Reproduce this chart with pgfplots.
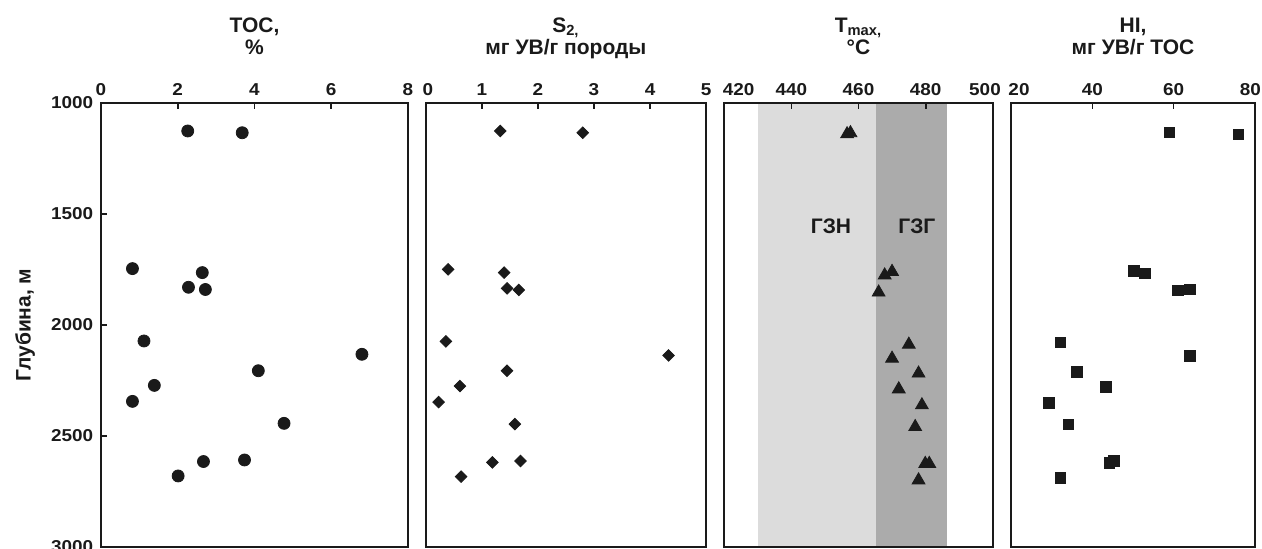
\documentclass[border=0pt]{standalone}
\usepackage{fontspec}
\setmainfont{Liberation Sans}
\usepackage{pgfplots}
\pgfplotsset{compat=1.18}

\definecolor{txt}{HTML}{1A1A1A}
\definecolor{zoneN}{HTML}{DCDCDC}
\definecolor{zoneG}{HTML}{ABABAB}

% shift an edge tick label sideways by half of #1
\newcommand\sh[2]{\makebox[0pt]{\hspace*{#1}#2}}

\pgfplotsset{
  well/.style={
    scale only axis,
    height=222pt,
    anchor=north west,
    y dir=reverse,
    ymin=1000, ymax=3000,
    axis on top,
    axis line style={line width=1pt, txt},
    tick style={line width=0.9pt, txt},
    major tick length=3pt,
    tick align=inside,
    xtick pos=right, xticklabel pos=right,
    ytick pos=left,
    /pgf/number format/assume math mode=true,
    /pgf/number format/1000 sep={},
    ticklabel style={font=\fontsize{8.6}{9}\selectfont\bfseries, text=txt, xscale=1.1},
    title style={at={(0.5,1)}, anchor=south, yshift=14.7pt, inner sep=0pt,
      align=center, font=\fontsize{10.5}{11}\selectfont\bfseries, text=txt},
    only marks,
  },
  dot/.style={mark=*, mark size=3pt, txt},
}

\begin{document}
\begin{tikzpicture}
% TOC
\begin{axis}[well, at={(50.5pt,-51.5pt)}, width=153.5pt,
    xmin=0, xmax=8, xtick={0,2,...,8},
    ytick={1000,1500,...,3000},
    title={TOC,\\\%\strut},
    ylabel={Глубина, м},
    ylabel style={at={(axis description cs:-0.2476,0.5)}, anchor=center,
      font=\fontsize{10.5}{11}\selectfont\bfseries, text=txt}]
\addplot[dot] coordinates {
  (2.26,1126) (3.68,1134) (0.82,1746) (2.64,1764) (2.28,1830)
  (2.72,1840) (1.12,2072) (6.80,2132) (4.10,2206) (1.39,2272)
  (0.82,2344) (4.77,2443) (3.74,2608) (2.67,2615) (2.01,2680)
};
\end{axis}

% S2
\begin{axis}[well, at={(212.85pt,-51.5pt)}, width=140.2pt,
    xmin=0, xmax=5, xtick={0,1,...,5}, ytick=\empty,
    xticklabels={\sh{2pt}{0},1,2,3,4,5},
    title={S\textsubscript{2,}\\мг УВ/г породы\strut}]
\addplot[mark=square*, mark size=2.05pt, mark options={rotate=45}, txt] coordinates {
  (1.33,1126) (2.80,1134) (0.40,1749) (1.40,1764) (1.45,1835)
  (1.66,1842) (0.36,2074) (4.33,2137) (1.45,2206) (0.61,2275)
  (0.23,2347) (1.59,2446) (1.19,2619) (1.69,2613) (0.63,2683)
};
\end{axis}

% Tmax
\begin{axis}[well, at={(362.15pt,-51.5pt)}, width=134.2pt,
    xmin=420, xmax=500, xtick={420,440,...,500}, ytick=\empty,
    xticklabels={\sh{13pt}{420},440,460,480,\sh{-7pt}{500}},
    title={T\textsubscript{max,}\\°C\strut}]
\addplot[sharp plot, draw=none, fill=zoneN] coordinates {(430,1000) (465.3,1000) (465.3,3000) (430,3000)} -- cycle;
\addplot[sharp plot, draw=none, fill=zoneG] coordinates {(465.3,1000) (486.5,1000) (486.5,3000) (465.3,3000)} -- cycle;
\addplot[mark=triangle*, mark size=3.7pt, txt] coordinates {
  (456.6,1140) (457.6,1135) (470.0,1760) (467.8,1776) (466.0,1853)
  (475.0,2088) (470.0,2151) (477.9,2218) (472.0,2289) (478.9,2361)
  (476.9,2459) (479.9,2625) (481.1,2625) (477.9,2699)
};
\node[font=\fontsize{10.5}{11}\selectfont\bfseries, text=txt] at (axis cs:451.8,1557) {ГЗН};
\node[font=\fontsize{10.5}{11}\selectfont\bfseries, text=txt] at (axis cs:477.4,1557) {ГЗГ};
\end{axis}

% HI
\begin{axis}[well, at={(505.65pt,-51.5pt)}, width=121.7pt,
    xmin=20, xmax=80, xtick={20,40,...,80}, ytick=\empty,
    xticklabels={\sh{7pt}{20},40,60,\sh{-4pt}{80}},
    title={HI,\\мг УВ/г TOC\strut}]
\addplot[mark=square*, mark size=2.65pt, txt] coordinates {
  (59.0,1132) (76.0,1141) (50.2,1757) (52.95,1768) (61.1,1845)
  (64.0,1839) (32.1,2078) (64.0,2140) (36.2,2210) (43.3,2278)
  (29.2,2350) (34.1,2448) (44.2,2620) (45.3,2613) (32.1,2688)
};
\end{axis}

\pgfresetboundingbox
\path (0pt,0pt) rectangle (631pt,-274.5pt);
\end{tikzpicture}
\end{document}
